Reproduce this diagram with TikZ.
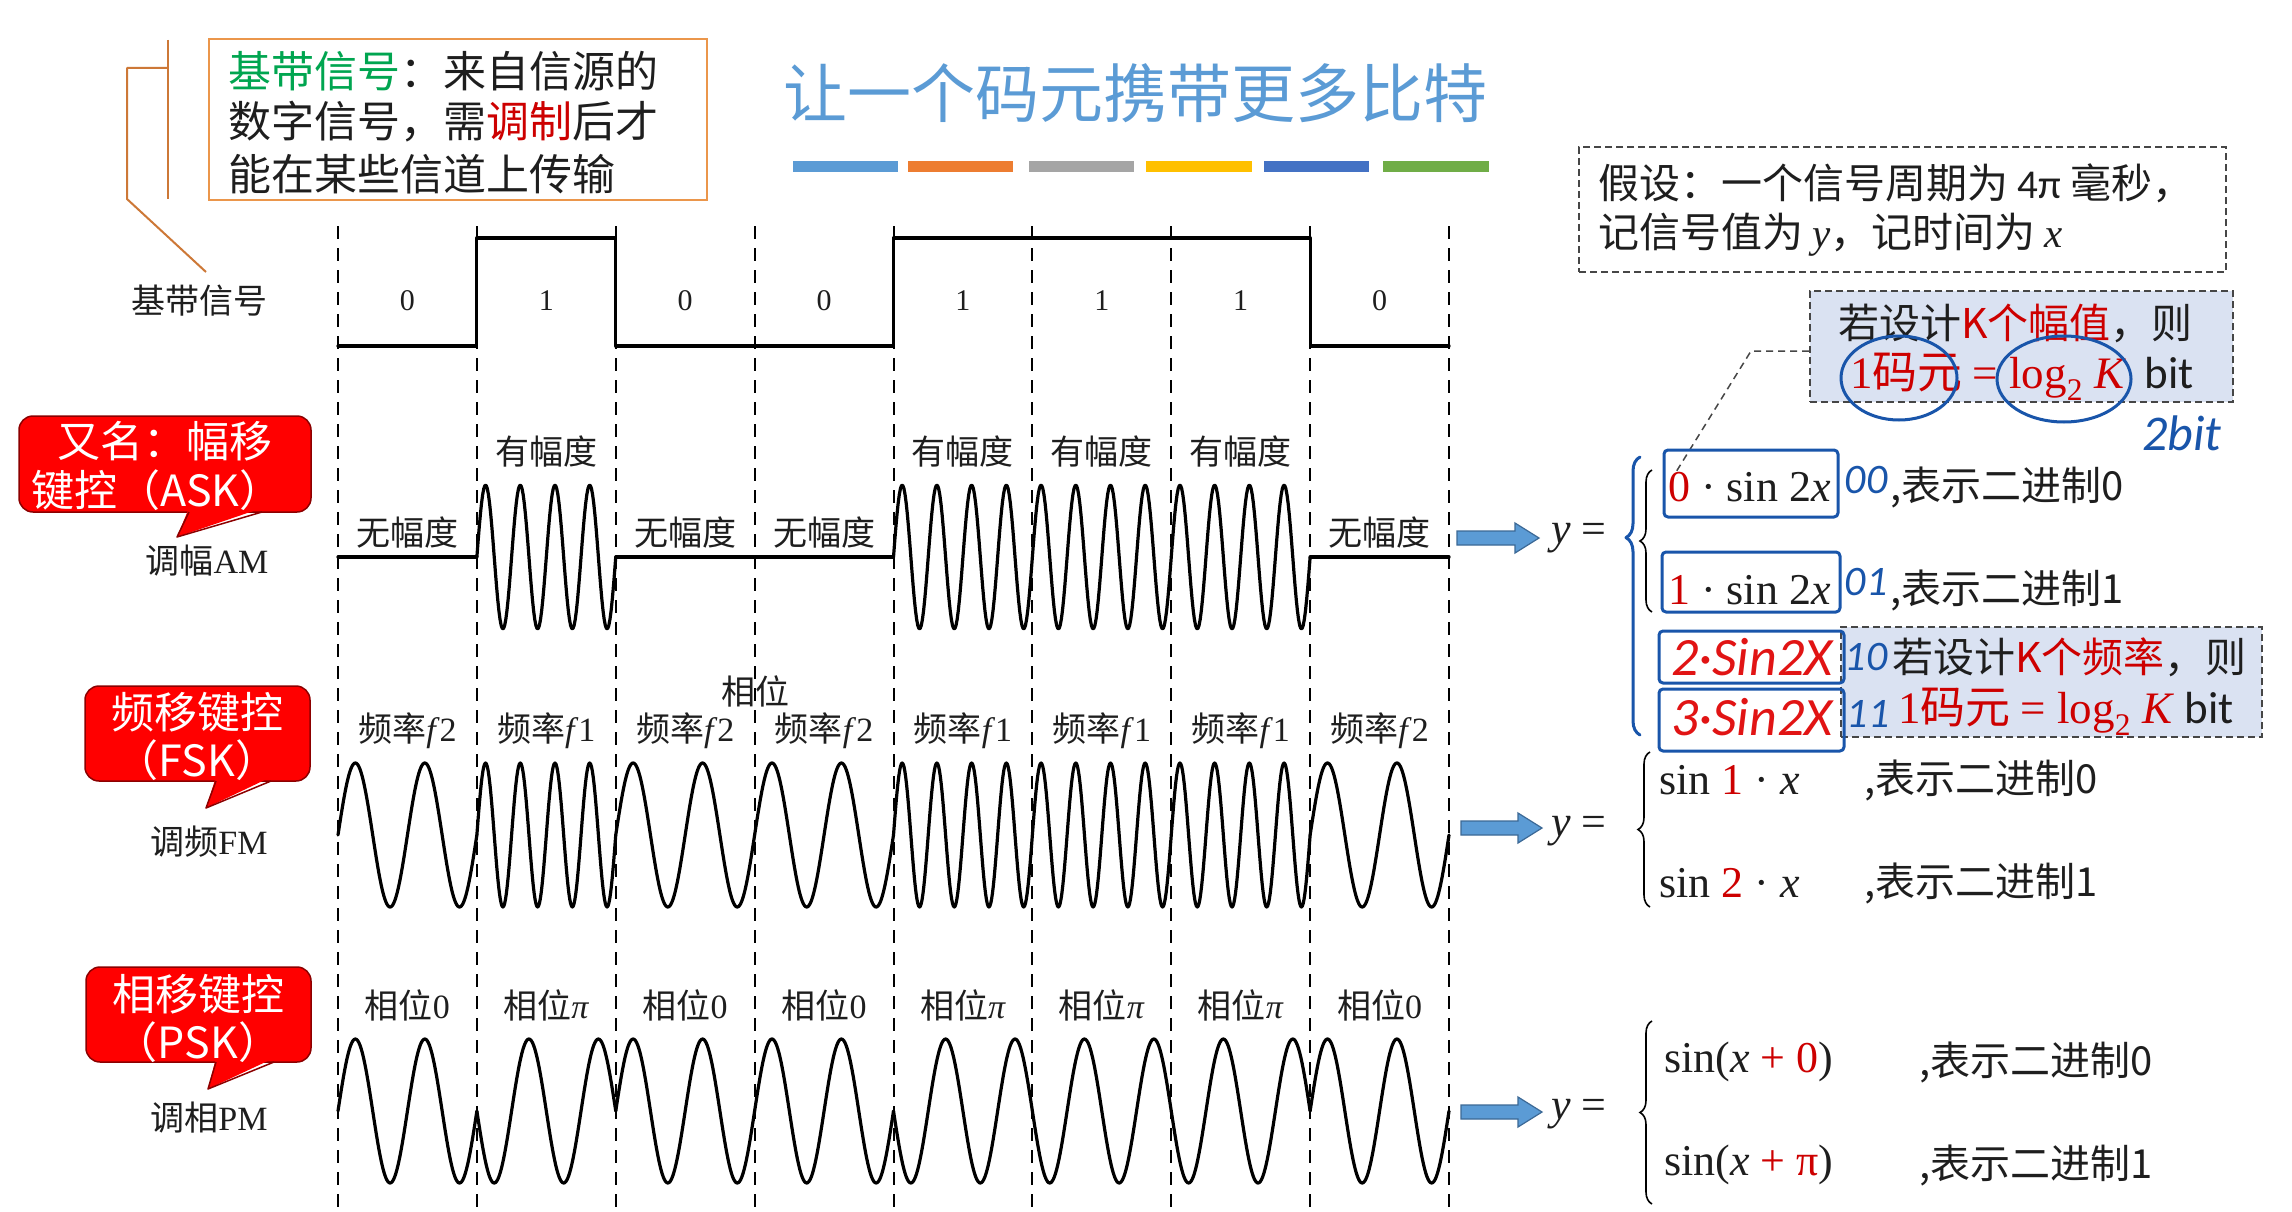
\documentclass[tikz,border=0pt]{standalone}
\usepackage{fontspec}
\setmainfont{Liberation Serif}
\newfontfamily\cjk{Noto Sans CJK SC}
\newfontfamily\calfont{Carlito}
\usetikzlibrary{decorations.pathreplacing}
\definecolor{titleblue}{RGB}{91,155,213}
\definecolor{barA}{RGB}{91,155,213}
\definecolor{barB}{RGB}{237,125,49}
\definecolor{barC}{RGB}{165,165,165}
\definecolor{barD}{RGB}{255,192,0}
\definecolor{barE}{RGB}{68,114,196}
\definecolor{barF}{RGB}{112,173,71}
\definecolor{boxorange}{RGB}{235,150,75}
\definecolor{leadorange}{RGB}{205,120,55}
\definecolor{zhgreen}{RGB}{0,165,80}
\definecolor{zhred}{RGB}{205,0,0}
\definecolor{bubred}{RGB}{255,0,0}
\definecolor{bubedge}{RGB}{140,0,0}
\definecolor{kfill}{RGB}{218,226,242}
\definecolor{dgray}{RGB}{70,70,70}
\definecolor{ink}{RGB}{25,85,170}
\definecolor{inkred}{RGB}{225,20,20}
\definecolor{arrfill}{RGB}{91,155,213}
\definecolor{arredge}{RGB}{60,105,150}
\definecolor{txt}{RGB}{30,30,30}
\newcommand\setfs[1]{\fontsize{#1}{#1}\selectfont}
\newcommand\zh[1]{{\cjk #1}}
\newcommand\rmit[1]{{\rmfamily\itshape #1}}
\newcommand\blockarrow[3]{%
  \filldraw[fill=arrfill, draw=arredge, line width=1.2pt] (#1,#3-7) -- (#2-24,#3-7) -- (#2-24,#3-15) -- (#2,#3) -- (#2-24,#3+15) -- (#2-24,#3+7) -- (#1,#3+7) -- cycle;}
\newcommand\redbubble[8]{%
  \filldraw[fill=bubred, draw=bubedge, line width=1.5pt, rounded corners=14pt] (#1,#2) rectangle (#3,#4);
  \fill[bubred] (#5,#4-4) -- (#7,#8) -- (#6,#4-4) -- cycle;
  \draw[bubedge, line width=1.5pt, line join=round] (#5,#4) -- (#7,#8) -- (#6,#4);}
\begin{document}
\begin{tikzpicture}[x=1pt,y=-1pt,
  wave/.style={line width=3.2pt, line join=round, line cap=round},
  slotline/.style={line width=2pt, dash pattern=on 13pt off 9pt},
  lbl/.style={font=\setfs{34}, inner sep=0pt, text=txt},
  bubtext/.style={font=\setfs{43}\cjk, text=white, inner sep=0pt},
  infotext/.style={font=\setfs{43}\cjk, anchor=west, inner sep=0pt, text=txt},
  rtext/.style={font=\setfs{41}\cjk, anchor=west, inner sep=0pt, text=txt},
  ktext/.style={font=\setfs{45}\cjk, anchor=west, inner sep=0pt, text=txt},
  dbox/.style={draw=dgray, line width=1.8pt, dash pattern=on 7pt off 4pt, inner sep=0pt},
  fml/.style={font=\setfs{44}, anchor=west, inner sep=0pt, text=txt},
  ftxt/.style={font=\setfs{40}\cjk, anchor=west, inner sep=0pt, text=txt},
  brc/.style={decorate, decoration={brace, amplitude=12pt}, line width=1.6pt},
  inkline/.style={draw=ink, line width=3pt, line cap=round, line join=round},
  inktext/.style={font=\setfs{42}\calfont\itshape, text=ink, inner sep=0pt},
  inkredtext/.style={font=\setfs{54}\calfont\itshape, text=inkred, inner sep=0pt},
]
\useasboundingbox (0,0) rectangle (2292,1212);
\fill[white] (0,0) rectangle (2292,1212);
\def\xa{338}\def\w{138.875}

% title and colour bars
\node[font=\setfs{64}\cjk, text=titleblue, inner sep=0pt] (title) at (1135,93) {让一个码元携带更多比特};
\foreach \xl/\xr/\cc in {793/898/barA, 908/1013/barB, 1029/1134/barC, 1146/1252/barD, 1264/1369/barE, 1383/1489/barF}
  \fill[\cc] (\xl,161) rectangle (\xr,172);

% info box
\node[draw=boxorange, line width=2pt, minimum width=498pt, minimum height=161pt, inner sep=0pt] (infobox) at (458,119.5) {};
\node[infotext] (info1) at (228,71) {\textcolor{zhgreen}{基带信号}：来自信源的};
\node[infotext] (info2) at (228,122) {数字信号，需\textcolor{zhred}{调制}后才};
\node[infotext] (info3) at (228,174) {能在某些信道上传输};

% baseband label and orange leader
\node[lbl] (bbl) at (199,301) {\zh{基带信号}};
\coordinate (lA) at (168,40); \coordinate (lB) at (168,199);
\coordinate (lC) at (168,68); \coordinate (lD) at (127,68);
\coordinate (lE) at (127,199); \coordinate (lF) at (206,272);
\draw[leadorange, line width=2pt] (lA) -- (lB);
\draw[leadorange, line width=2pt, line join=round] (lC) -- (lD) -- (lE) -- (lF);

% slot lines
\foreach \i in {0,...,8} \draw[slotline] ({\xa+\i*\w},226) -- ({\xa+\i*\w},1212);

% baseband signal
\draw[wave] (338,346) -- (476.875,346) -- (476.875,238) -- (615.75,238) -- (615.75,346) -- (893.5,346) -- (893.5,238) -- (1310.125,238) -- (1310.125,346) -- (1449,346);
\foreach \b [count=\i from 0] in {0,1,0,0,1,1,1,0}
  \node[font=\setfs{30}, inner sep=0pt, text=txt] (bit\i) at ({\xa+(\i+0.5)*\w},301) {\b};

% ASK
\foreach \b [count=\i from 0] in {0,1,0,0,1,1,1,0} {
  \ifnum\b=1
    \draw[wave] plot[domain=0:\w, samples=121] ({\xa+\i*\w+\x},{557-72*sin(\x/\w*1440)});
    \node[lbl] (ask\i) at ({\xa+(\i+0.5)*\w},451) {\zh{有幅度}};
  \else
    \draw[wave] ({\xa+\i*\w},557) -- ({\xa+(\i+1)*\w},557);
    \node[lbl] (ask\i) at ({\xa+(\i+0.5)*\w},532) {\zh{无幅度}};
  \fi
}

% FSK
\foreach \n/\f [count=\i from 0] in {2/2,4/1,2/2,2/2,4/1,4/1,4/1,2/2} {
  \draw[wave] plot[domain=0:\w, samples=161] ({\xa+\i*\w+\x},{835-72*sin(\x/\w*360*\n)});
  \node[lbl] (fsk\i) at ({\xa+(\i+0.5)*\w},731) {\zh{频率}\textit{f}\f};
}
\node[lbl] (xiangwei) at (755,691) {\zh{相位}};

% PSK
\foreach \p [count=\i from 0] in {0,1,0,0,1,1,1,0} {
  \draw[wave] plot[domain=0:\w, samples=121] ({\xa+\i*\w+\x},{1111-72*sin(\x/\w*720+180*\p)});
  \node[lbl] (psk\i) at ({\xa+(\i+0.5)*\w},1005) {\zh{相位}\ifnum\p=1 \textit{π}\else 0\fi};
}

% red callouts
\redbubble{19}{416}{311}{512}{189}{262}{177}{537}
\node[bubtext] (bubA1) at (165,441) {又名：幅移};
\node[bubtext] (bubA2) at (157,490) {键控（ASK）};
\node[lbl] (am) at (207,561) {\zh{调幅}AM};

\redbubble{85}{686}{310}{781}{216}{271}{206}{808}
\node[bubtext] (bubF1) at (197,712) {频移键控};
\node[bubtext] (bubF2) at (197,760) {（FSK）};
\node[lbl] (fm) at (209,842) {\zh{调频}FM};

\redbubble{86}{967}{311}{1062}{216}{274}{208}{1089}
\node[bubtext] (bubP1) at (198,994) {相移键控};
\node[bubtext] (bubP2) at (198,1042) {（PSK）};
\node[lbl] (pm) at (209,1118) {\zh{调相}PM};

% assumption box
\node[dbox, minimum width=647pt, minimum height=125pt] (hyp) at (1902.5,209.5) {};
\node[rtext] (hyp1) at (1598,183) {假设：一个信号周期为 {\calfont 4π} 毫秒，};
\node[rtext] (hyp2) at (1598,235) {记信号值为 \rmit{y}，记时间为 \rmit{x}};

% K amplitude box
\node[dbox, fill=kfill, minimum width=423pt, minimum height=111pt] (kb1) at (2021.5,346.5) {};
\node[rtext] (kb1a) at (1838,323) {若设计\textcolor{zhred}{K个幅值}，则};
\node[ktext] (kb1b) at (1850,377) {\textcolor{zhred}{{\rmfamily 1}码元 {\rmfamily = log\textsubscript{2} \textit{K}}}\hspace{8pt} {\calfont bit}};
\coordinate (kl1) at (1751,351); \coordinate (kl2) at (1676,472);
\draw[dgray, line width=1.5pt, dash pattern=on 7pt off 5pt] (kb1.west |- kl1) -- (kl1) -- (kl2);

% ASK formula
\blockarrow{1457}{1539}{538}
\node[fml] (yA) at (1551,538) {\textit{y} =};
\draw[brc] (1652,612) -- (1652,470);
\node[fml] (a0) at (1668,487) {\textcolor{zhred}{0} · sin 2\textit{x}};
\node[fml] (a1) at (1668,590) {\textcolor{zhred}{1} · sin 2\textit{x}};
\node[ftxt] (a0t) at (1890,487) {,表示二进制0};
\node[ftxt] (a1t) at (1890,590) {,表示二进制1};

% K frequency box
\node[dbox, fill=kfill, minimum width=421pt, minimum height=110pt] (kb2) at (2051.5,682) {};
\node[rtext] (kb2a) at (1892,657) {若设计\textcolor{zhred}{K个频率}，则};
\node[ktext] (kb2b) at (1898,712) {\textcolor{zhred}{{\rmfamily 1}码元 {\rmfamily = log\textsubscript{2} \textit{K}}} {\calfont bit}};

% FSK formula
\blockarrow{1461}{1542}{828}
\node[fml] (yF) at (1551,831) {\textit{y} =};
\draw[brc] (1650,907) -- (1650,752);
\node[fml] (f0) at (1659,780) {sin \textcolor{zhred}{1} · \textit{x}};
\node[fml] (f1) at (1659,883) {sin \textcolor{zhred}{2} · \textit{x}};
\node[ftxt] (f0t) at (1864,780) {,表示二进制0};
\node[ftxt] (f1t) at (1864,883) {,表示二进制1};

% PSK formula
\blockarrow{1461}{1542}{1112}
\node[fml] (yP) at (1551,1114) {\textit{y} =};
\draw[brc] (1652,1204) -- (1652,1021);
\node[fml] (p0) at (1664,1062) {sin(\textit{x} \textcolor{zhred}{+ 0})};
\node[fml] (p1) at (1664,1165) {sin(\textit{x} \textcolor{zhred}{+ π})};
\node[ftxt] (p0t) at (1919,1062) {,表示二进制0};
\node[ftxt] (p1t) at (1919,1165) {,表示二进制1};

% handwritten annotations
\draw[inkline] (1899,378) ellipse [x radius=58pt, y radius=42pt];
\draw[inkline] (2064,379) ellipse [x radius=67pt, y radius=43pt];
\node[inktext, font=\setfs{50}\calfont\itshape] (ink2bit) at (2182,433) {2bit};
\draw[inkline, rounded corners=4pt] (1664,450) rectangle (1838,517);
\draw[inkline, rounded corners=4pt] (1662,552) rectangle (1840,612);
\draw[inkline, rounded corners=4pt] (1659,631) rectangle (1844,683);
\draw[inkline, rounded corners=4pt] (1659,689) rectangle (1844,751);
\node[inktext] (ink00) at (1866,480) {00};
\node[inktext] (ink01) at (1866,582) {01};
\node[inktext] (ink10) at (1866,657) {10};
\node[inktext] (ink11) at (1868,714) {11};
\node[inkredtext] (ink2s) at (1752,657) {2·Sin2X};
\node[inkredtext] (ink3s) at (1752,717) {3·Sin2X};
\draw[inkline, decorate, decoration={brace, amplitude=14pt, aspect=0.71}] (1640,735) -- (1640,457);
\end{tikzpicture}
\end{document}
